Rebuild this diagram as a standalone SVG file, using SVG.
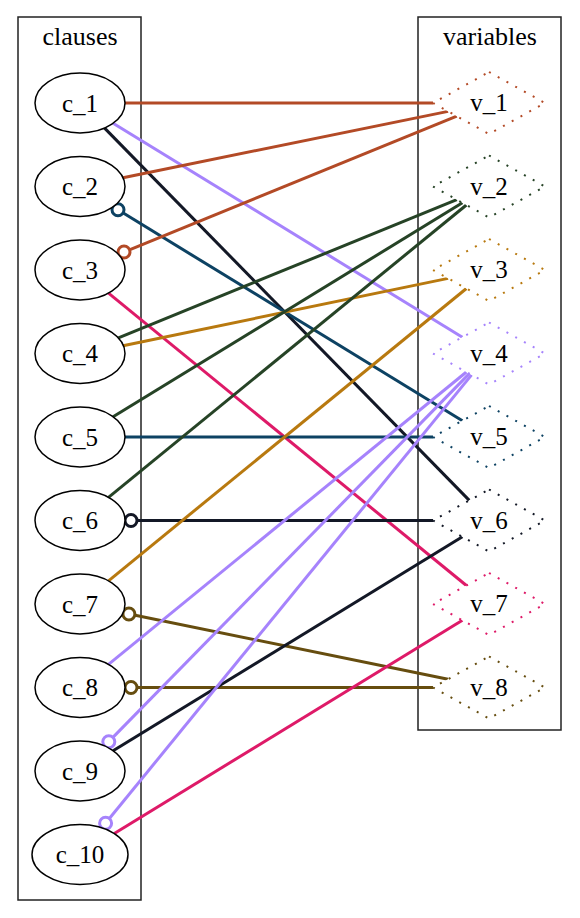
<svg xmlns="http://www.w3.org/2000/svg" width="580" height="918" viewBox="0 0 580 918">
<style>
text{font-family:'Liberation Serif','Times New Roman',Times,serif}
.k1{stroke:#b34a26}.k2{stroke:#264326}.k3{stroke:#b8790f}.k4{stroke:#a683fc}
.k5{stroke:#0d4263}.k6{stroke:#131826}.k7{stroke:#de1a68}.k8{stroke:#664d0f}
</style>
<g id="cluster_clauses" fill="none" stroke="#222" stroke-width="1.5"><rect x="18" y="17" width="123" height="883"/><text x="80" y="45" font-family="Liberation Serif, Times New Roman, serif" font-size="26" text-anchor="middle" fill="#000" stroke="none">clauses</text></g>
<g id="cluster_variables" fill="none" stroke="#222" stroke-width="1.5"><rect x="418" y="17" width="143" height="713"/><text x="490" y="45" font-family="Liberation Serif, Times New Roman, serif" font-size="26" text-anchor="middle" fill="#000" stroke="none">variables</text></g>
<g id="edges" fill="none" stroke-width="3">
<line class="k1" x1="125" y1="103" x2="433" y2="103"/>
<line class="k4" x1="113.1" y1="123.3" x2="462.4" y2="337.2"/>
<line class="k6" x1="104.6" y1="128.1" x2="469.3" y2="500.4"/>
<line class="k1" x1="123" y1="177.7" x2="448.1" y2="111.4"/>
<line class="k5" x1="113.1" y1="206.8" x2="462.4" y2="420.7"/>
<circle class="k5" cx="118" cy="209.8" r="6" fill="#fff"/>
<line class="k1" x1="118.4" y1="254.3" x2="456.8" y2="116.2"/>
<circle class="k1" cx="124" cy="252" r="6" fill="#fff"/>
<line class="k7" x1="108.5" y1="293.2" x2="466.4" y2="585.5"/>
<line class="k2" x1="118.4" y1="337.8" x2="456.8" y2="199.7"/>
<line class="k3" x1="123" y1="345.7" x2="448.1" y2="278.4"/>
<line class="k2" x1="113.1" y1="416.7" x2="462.4" y2="202.8"/>
<line class="k5" x1="125" y1="437" x2="433" y2="437"/>
<line class="k2" x1="108.5" y1="497.3" x2="466.4" y2="205"/>
<line class="k6" x1="125" y1="520.5" x2="433" y2="520.5"/>
<circle class="k6" cx="131" cy="520.5" r="6" fill="#fff"/>
<line class="k3" x1="108.5" y1="580.8" x2="466.4" y2="288.5"/>
<line class="k8" x1="123" y1="612.8" x2="448.1" y2="679.2"/>
<circle class="k8" cx="128.9" cy="614" r="6" fill="#fff"/>
<line class="k4" x1="108.5" y1="664.3" x2="466.4" y2="372"/>
<line class="k8" x1="125" y1="687.5" x2="433" y2="687.5"/>
<circle class="k8" cx="131" cy="687.5" r="6" fill="#fff"/>
<line class="k4" x1="104.6" y1="745.9" x2="469.3" y2="373.6"/>
<circle class="k4" cx="108.8" cy="741.7" r="6" fill="#fff"/>
<line class="k6" x1="113.1" y1="750.7" x2="462.4" y2="536.8"/>
<line class="k4" x1="101.8" y1="827.8" x2="471.6" y2="374.9"/>
<circle class="k4" cx="105.6" cy="823.2" r="6" fill="#fff"/>
<line class="k7" x1="114.3" y1="833.5" x2="462.4" y2="620.3"/>
</g>
<g font-family="Liberation Serif, Times New Roman, serif" font-size="25" text-anchor="middle">
<g id="c_1"><ellipse cx="80" cy="103" rx="45" ry="30" fill="#fff" stroke="#000" stroke-width="1.5"/><text x="80" y="111.5">c_1</text></g>
<g id="c_2"><ellipse cx="80" cy="186.5" rx="45" ry="30" fill="#fff" stroke="#000" stroke-width="1.5"/><text x="80" y="195">c_2</text></g>
<g id="c_3"><ellipse cx="80" cy="270" rx="45" ry="30" fill="#fff" stroke="#000" stroke-width="1.5"/><text x="80" y="278.5">c_3</text></g>
<g id="c_4"><ellipse cx="80" cy="353.5" rx="45" ry="30" fill="#fff" stroke="#000" stroke-width="1.5"/><text x="80" y="362">c_4</text></g>
<g id="c_5"><ellipse cx="80" cy="437" rx="45" ry="30" fill="#fff" stroke="#000" stroke-width="1.5"/><text x="80" y="445.5">c_5</text></g>
<g id="c_6"><ellipse cx="80" cy="520.5" rx="45" ry="30" fill="#fff" stroke="#000" stroke-width="1.5"/><text x="80" y="529">c_6</text></g>
<g id="c_7"><ellipse cx="80" cy="604" rx="45" ry="30" fill="#fff" stroke="#000" stroke-width="1.5"/><text x="80" y="612.5">c_7</text></g>
<g id="c_8"><ellipse cx="80" cy="687.5" rx="45" ry="30" fill="#fff" stroke="#000" stroke-width="1.5"/><text x="80" y="696">c_8</text></g>
<g id="c_9"><ellipse cx="80" cy="771" rx="45" ry="30" fill="#fff" stroke="#000" stroke-width="1.5"/><text x="80" y="779.5">c_9</text></g>
<g id="c_10"><ellipse cx="80" cy="854.5" rx="48" ry="30" fill="#fff" stroke="#000" stroke-width="1.5"/><text x="80" y="863">c_10</text></g>
<g id="v_1"><polygon class="k1" points="489,72 545,103 489,134 433,103" fill="#fff" stroke-width="2" stroke-dasharray="2,8"/><text x="489" y="111">v_1</text></g>
<g id="v_2"><polygon class="k2" points="489,155.5 545,186.5 489,217.5 433,186.5" fill="#fff" stroke-width="2" stroke-dasharray="2,8"/><text x="489" y="194.5">v_2</text></g>
<g id="v_3"><polygon class="k3" points="489,239 545,270 489,301 433,270" fill="#fff" stroke-width="2" stroke-dasharray="2,8"/><text x="489" y="278">v_3</text></g>
<g id="v_4"><polygon class="k4" points="489,322.5 545,353.5 489,384.5 433,353.5" fill="#fff" stroke-width="2" stroke-dasharray="2,8"/><text x="489" y="361.5">v_4</text></g>
<g id="v_5"><polygon class="k5" points="489,406 545,437 489,468 433,437" fill="#fff" stroke-width="2" stroke-dasharray="2,8"/><text x="489" y="445">v_5</text></g>
<g id="v_6"><polygon class="k6" points="489,489.5 545,520.5 489,551.5 433,520.5" fill="#fff" stroke-width="2" stroke-dasharray="2,8"/><text x="489" y="528.5">v_6</text></g>
<g id="v_7"><polygon class="k7" points="489,573 545,604 489,635 433,604" fill="#fff" stroke-width="2" stroke-dasharray="2,8"/><text x="489" y="612">v_7</text></g>
<g id="v_8"><polygon class="k8" points="489,656.5 545,687.5 489,718.5 433,687.5" fill="#fff" stroke-width="2" stroke-dasharray="2,8"/><text x="489" y="695.5">v_8</text></g>
</g>
</svg>
